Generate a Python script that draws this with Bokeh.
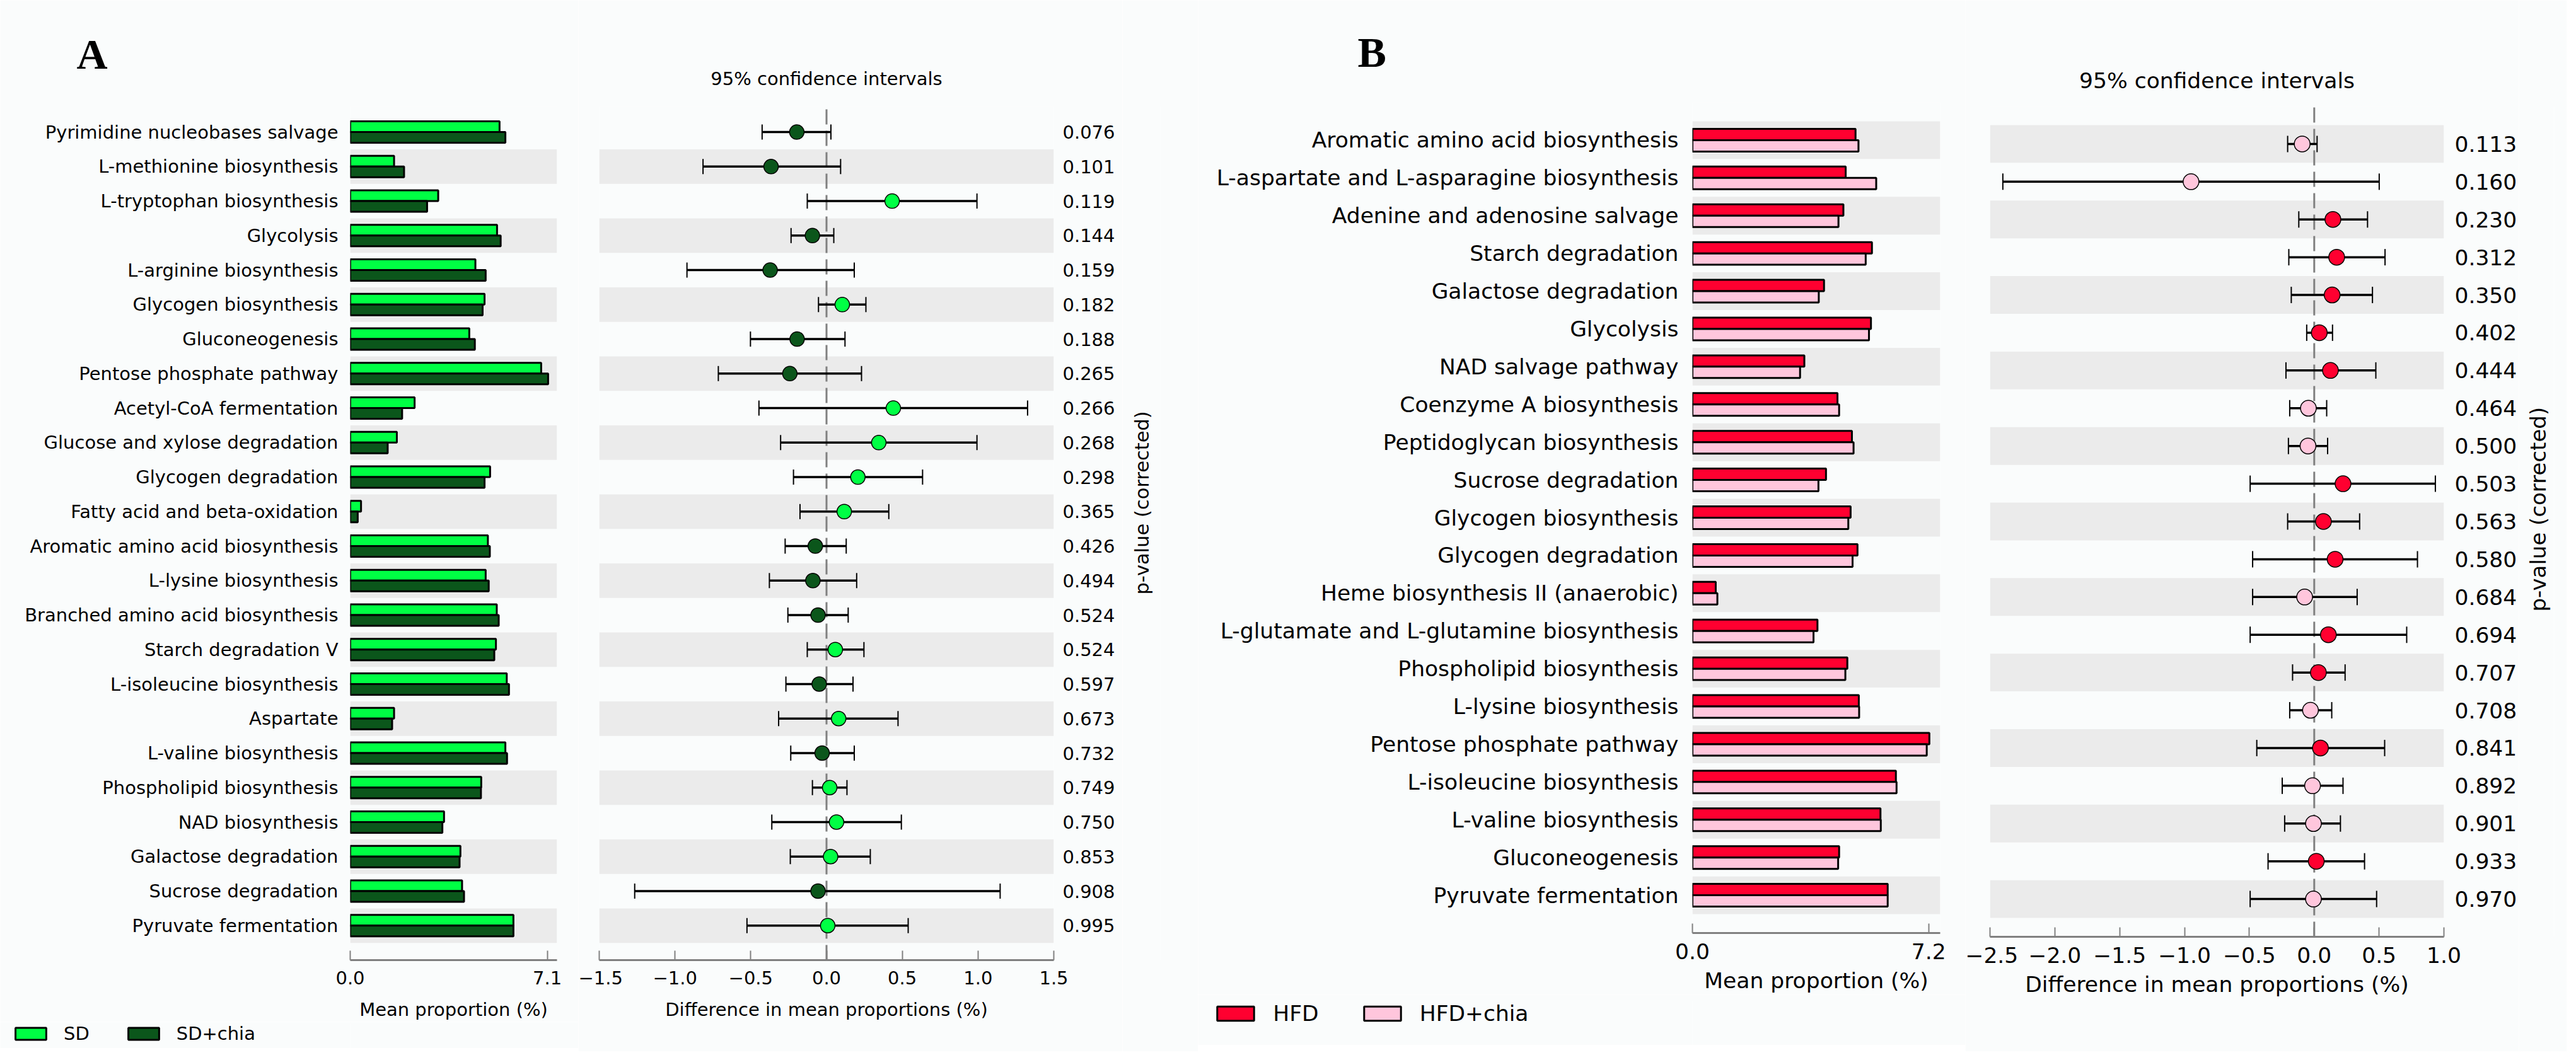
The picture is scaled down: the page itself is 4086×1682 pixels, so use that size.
import math
from bokeh.plotting import figure
from bokeh.models import Range1d, FixedTicker, LinearAxis, Legend, LegendItem
from bokeh.layouts import row, column
from bokeh.embed import file_html
from bokeh.resources import INLINE

# ---------------- Panel A data (rows listed top to bottom) ----------------
a_pathways = ["Pyrimidine nucleobases salvage", "L-methionine biosynthesis", "L-tryptophan biosynthesis",
              "Glycolysis", "L-arginine biosynthesis", "Glycogen biosynthesis", "Gluconeogenesis",
              "Pentose phosphate pathway", "Acetyl-CoA fermentation", "Glucose and xylose degradation",
              "Glycogen degradation", "Fatty acid and beta-oxidation", "Aromatic amino acid biosynthesis",
              "L-lysine biosynthesis", "Branched amino acid biosynthesis", "Starch degradation V",
              "L-isoleucine biosynthesis", "Aspartate", "L-valine biosynthesis", "Phospholipid biosynthesis",
              "NAD biosynthesis", "Galactose degradation", "Sucrose degradation", "Pyruvate fermentation"]
a_sd = [5.38, 1.58, 3.17, 5.29, 4.51, 4.84, 4.29, 6.88, 2.32, 1.68, 5.04, 0.39,
        4.96, 4.88, 5.28, 5.25, 5.64, 1.58, 5.59, 4.72, 3.38, 3.97, 4.03, 5.88]
a_sd_chia = [5.59, 1.94, 2.77, 5.42, 4.88, 4.77, 4.49, 7.13, 1.87, 1.35, 4.84, 0.27,
             5.03, 4.99, 5.35, 5.19, 5.72, 1.51, 5.65, 4.71, 3.32, 3.94, 4.10, 5.88]
a_diff = [-0.196, -0.366, 0.433, -0.093, -0.372, 0.104, -0.194, -0.242, 0.441, 0.345, 0.207, 0.117,
          -0.074, -0.090, -0.056, 0.058, -0.048, 0.080, -0.029, 0.021, 0.066, 0.027, -0.056, 0.008]
a_lower = [-0.425, -0.815, -0.127, -0.234, -0.921, -0.053, -0.502, -0.714, -0.446, -0.303, -0.218, -0.175,
           -0.273, -0.377, -0.255, -0.127, -0.268, -0.316, -0.236, -0.093, -0.361, -0.239, -1.266, -0.525]
a_upper = [0.029, 0.093, 0.993, 0.048, 0.183, 0.260, 0.122, 0.231, 1.327, 0.993, 0.634, 0.411,
           0.130, 0.199, 0.143, 0.247, 0.175, 0.472, 0.183, 0.135, 0.494, 0.289, 1.146, 0.539]
a_pvalues = ["0.076", "0.101", "0.119", "0.144", "0.159", "0.182", "0.188", "0.265", "0.266", "0.268",
             "0.298", "0.365", "0.426", "0.494", "0.524", "0.524", "0.597", "0.673", "0.732", "0.749",
             "0.750", "0.853", "0.908", "0.995"]
a_groups = ["SD", "SD+chia"]
a_bar_ticks = [0.0, 7.1]
a_ci_ticks = [-1.5, -1.0, -0.5, 0.0, 0.5, 1.0, 1.5]

# ---------------- Panel B data (rows listed top to bottom) ----------------
b_pathways = ["Aromatic amino acid biosynthesis", "L-aspartate and L-asparagine biosynthesis",
              "Adenine and adenosine salvage", "Starch degradation", "Galactose degradation", "Glycolysis",
              "NAD salvage pathway", "Coenzyme A biosynthesis", "Peptidoglycan biosynthesis",
              "Sucrose degradation", "Glycogen biosynthesis", "Glycogen degradation",
              "Heme biosynthesis II (anaerobic)", "L-glutamate and L-glutamine biosynthesis",
              "Phospholipid biosynthesis", "L-lysine biosynthesis", "Pentose phosphate pathway",
              "L-isoleucine biosynthesis", "L-valine biosynthesis", "Gluconeogenesis", "Pyruvate fermentation"]
b_hfd = [4.97, 4.67, 4.60, 5.47, 4.01, 5.44, 3.41, 4.42, 4.86, 4.07, 4.82, 5.03, 0.71, 3.81,
         4.72, 5.07, 7.22, 6.20, 5.73, 4.47, 5.95]
b_hfd_chia = [5.06, 5.60, 4.45, 5.28, 3.85, 5.38, 3.28, 4.47, 4.91, 3.84, 4.75, 4.88, 0.76, 3.69,
              4.66, 5.08, 7.14, 6.22, 5.74, 4.44, 5.95]
b_diff = [-0.093, -0.950, 0.144, 0.173, 0.138, 0.039, 0.125, -0.045, -0.048, 0.222, 0.071, 0.161,
          -0.074, 0.109, 0.032, -0.029, 0.048, -0.013, -0.006, 0.016, -0.006]
b_lower = [-0.205, -2.401, -0.119, -0.196, -0.177, -0.058, -0.218, -0.189, -0.199, -0.494, -0.205, -0.475,
           -0.475, -0.494, -0.167, -0.189, -0.443, -0.247, -0.228, -0.356, -0.494]
b_upper = [0.022, 0.501, 0.411, 0.546, 0.449, 0.141, 0.475, 0.096, 0.103, 0.934, 0.350, 0.796,
           0.331, 0.713, 0.238, 0.135, 0.543, 0.222, 0.202, 0.388, 0.481]
b_pvalues = ["0.113", "0.160", "0.230", "0.312", "0.350", "0.402", "0.444", "0.464", "0.500", "0.503",
             "0.563", "0.580", "0.684", "0.694", "0.707", "0.708", "0.841", "0.892", "0.901", "0.933",
             "0.970"]
b_groups = ["HFD", "HFD+chia"]
b_bar_ticks = [0.0, 7.2]
b_ci_ticks = [-2.5, -2.0, -1.5, -1.0, -0.5, 0.0, 0.5, 1.0]

# ---------------- style ----------------
FONT = "DejaVu Sans"
STRIPE = "#ebebeb"
BG = "#fafcfc"
GREY = "#808080"
A_COLORS = ["#00ff44", "#0b561b"]
B_COLORS = ["#ff0030", "#ffc6dc"]

geo_a = dict(fs="29px", frame_h=1355, top=168, bottom=145, bar_bottom=60, top_pad=0.75,
             bar_w=328, bar_left=555, bar_right=34, bar_max=7.45, bar_h=0.31,
             ci_w=721, ci_left=33, ci_right=109, ci_range=(-1.5, 1.5),
             name_standoff=13, p_standoff=8, tick_standoff=17, label_standoff=20, title_standoff=53,
             dot=23, cap=24,
             leg_left=54, leg_top=2, leg_h=40, glyph=(61, 24), leg_standoff=22, leg_spacing=55,
             letter="A", letter_offset=-434, letter_standoff=90, letter_fs="68px",
             sp_left=60, sp_right=59, plab_standoff=23, plab_offset=580, plab_fs="30.5px")
geo_b = dict(fs="34.5px", frame_h=1318, top=161, bottom=189, bar_bottom=60, top_pad=1.0,
             bar_w=393, bar_left=784, bar_right=40, bar_max=7.55, bar_h=0.30,
             ci_w=720, ci_left=39, ci_right=119, ci_range=(-2.5, 1.0),
             name_standoff=16, p_standoff=11, tick_standoff=16, label_standoff=11, title_standoff=42,
             dot=25, cap=26,
             leg_left=70, leg_top=10, leg_h=70, glyph=(73, 28), leg_standoff=23, leg_spacing=64,
             letter="B", letter_offset=-531, letter_standoff=84, letter_fs="68px",
             sp_left=55, sp_right=20, plab_standoff=10, plab_offset=516, plab_fs="34px")


def fmt(t):
    return f"{t:.1f}".replace("-", "\u2212")


def style_axis(ax, fs):
    ax.axis_line_color = GREY
    ax.axis_line_width = 3
    ax.major_tick_line_color = GREY
    ax.major_tick_line_width = 2
    ax.major_tick_in = 15
    ax.major_tick_out = 0
    ax.minor_tick_line_color = None
    ax.major_label_text_font = FONT
    ax.major_label_text_font_size = fs
    ax.major_label_text_color = "black"
    ax.axis_label_text_font = FONT
    ax.axis_label_text_font_size = fs
    ax.axis_label_text_font_style = "normal"
    ax.axis_label_text_color = "black"


def plain(**kw):
    return figure(output_backend="svg", toolbar_location=None, background_fill_color=BG,
                  border_fill_color=BG, outline_line_color=None, **kw)


def make_panel(names, g1, g2, diff, lower, upper, pvals, groups, colors, bar_ticks, ci_ticks, geo):
    n = len(names)
    ks = [n - 1 - i for i in range(n)]
    stripe_ks = [k for k in ks if k % 2 == 0]
    y_top = n - 1 + geo["top_pad"]
    fs = geo["fs"]
    bar_h = geo["bar_h"]
    off = bar_h / 2
    y1 = [k + off for k in ks]
    y2 = [k - off for k in ks]

    # ---- mean proportion bars ----
    bar_max = geo["bar_max"]
    pb = plain(frame_width=geo["bar_w"], frame_height=geo["frame_h"], min_border_left=geo["bar_left"],
               min_border_right=geo["bar_right"], min_border_top=geo["top"], min_border_bottom=geo["bar_bottom"],
               x_range=Range1d(0, bar_max), y_range=Range1d(-1, y_top), title=geo["letter"])
    pb.grid.visible = False
    pb.title.align = "left"
    pb.title.offset = geo["letter_offset"]
    pb.title.standoff = geo["letter_standoff"]
    pb.title.text_font = "Liberation Serif"
    pb.title.text_font_size = geo["letter_fs"]
    pb.title.text_font_style = "bold"
    pb.title.text_color = "black"
    pb.hbar(y=stripe_ks, left=0, right=bar_max, height=1, fill_color=STRIPE, line_color=None)
    pb.hbar(y=y1, left=0, right=g1, height=bar_h, fill_color=colors[0], line_color="black", line_width=3)
    pb.hbar(y=y2, left=0, right=g2, height=bar_h, fill_color=colors[1], line_color="black", line_width=3)
    xa = pb.xaxis[0]
    style_axis(xa, fs)
    xa.ticker = FixedTicker(ticks=bar_ticks)
    xa.major_label_overrides = {t: fmt(t) for t in bar_ticks}
    xa.axis_label = "Mean proportion (%)"
    xa.major_label_standoff = geo["tick_standoff"]
    xa.axis_label_standoff = geo["label_standoff"]
    ya = pb.yaxis[0]
    ya.ticker = FixedTicker(ticks=ks)
    ya.major_label_overrides = {k: nm for k, nm in zip(ks, names)}
    ya.axis_line_color = None
    ya.major_tick_line_color = None
    ya.minor_tick_line_color = None
    ya.major_label_standoff = geo["name_standoff"]
    ya.major_label_text_font = FONT
    ya.major_label_text_font_size = fs
    ya.major_label_text_color = "black"

    # ---- legend strip under the bars (its key renderers are zero-width and outside the view) ----
    total_w = geo["bar_left"] + geo["bar_w"] + geo["bar_right"]
    lf = plain(frame_width=total_w - geo["leg_left"], frame_height=geo["leg_h"], min_border_left=geo["leg_left"],
               min_border_right=0, min_border_top=geo["leg_top"], min_border_bottom=0,
               x_axis_location=None, y_axis_location=None,
               x_range=Range1d(0, 1), y_range=Range1d(y_top + 1, y_top + 2))
    lf.grid.visible = False
    d1 = lf.hbar(y=y1, left=0, right=0, height=bar_h, fill_color=colors[0], line_color="black", line_width=3)
    d2 = lf.hbar(y=y2, left=0, right=0, height=bar_h, fill_color=colors[1], line_color="black", line_width=3)
    gw, gh = geo["glyph"]
    leg = Legend(items=[LegendItem(label=groups[0], renderers=[d1]),
                        LegendItem(label=groups[1], renderers=[d2])],
                 location="top_left", orientation="horizontal",
                 glyph_width=gw, glyph_height=gh, label_standoff=geo["leg_standoff"],
                 spacing=geo["leg_spacing"], padding=0, margin=0,
                 background_fill_alpha=0, border_line_color=None,
                 label_text_font=FONT, label_text_font_size=fs, label_text_color="black")
    lf.add_layout(leg)

    # ---- confidence intervals ----
    c0, c1 = geo["ci_range"]
    pc = plain(frame_width=geo["ci_w"], frame_height=geo["frame_h"], min_border_left=geo["ci_left"],
               min_border_right=geo["ci_right"], min_border_top=geo["top"], min_border_bottom=geo["bottom"],
               x_range=Range1d(c0, c1), y_range=Range1d(-1, y_top), y_axis_location=None,
               title="95% confidence intervals")
    pc.grid.visible = False
    pc.title.align = "center"
    pc.title.text_font = FONT
    pc.title.text_font_size = fs
    pc.title.text_font_style = "normal"
    pc.title.text_color = "black"
    pc.title.standoff = geo["title_standoff"]
    pc.hbar(y=stripe_ks, left=c0, right=c1, height=1, fill_color=STRIPE, line_color=None)
    pc.segment(x0=[0], y0=[-1], x1=[0], y1=[y_top], line_color=GREY, line_width=3, line_dash="24 10")
    pc.segment(x0=lower, y0=ks, x1=upper, y1=ks, line_color="black", line_width=3.5)
    pc.scatter(x=lower + upper, y=ks + ks, marker="dash", angle=math.pi / 2, size=geo["cap"],
               line_color="black", line_width=2)
    pt_colors = [colors[0] if d > 0 else colors[1] for d in diff]
    pc.scatter(x=diff, y=ks, marker="circle", size=geo["dot"], fill_color=pt_colors,
               line_color="black", line_width=1.5)
    cx = pc.xaxis[0]
    style_axis(cx, fs)
    cx.ticker = FixedTicker(ticks=ci_ticks)
    cx.major_label_overrides = {t: fmt(t) for t in ci_ticks}
    cx.axis_label = "Difference in mean proportions (%)"
    cx.major_label_standoff = geo["tick_standoff"]
    cx.axis_label_standoff = geo["label_standoff"]
    ra = LinearAxis(ticker=FixedTicker(ticks=ks), major_label_overrides={k: pv for k, pv in zip(ks, pvals)})
    ra.axis_line_color = None
    ra.major_tick_line_color = None
    ra.minor_tick_line_color = None
    ra.major_label_standoff = geo["p_standoff"]
    ra.major_label_text_font = FONT
    ra.major_label_text_font_size = fs
    ra.major_label_text_color = "black"
    pc.add_layout(ra, "right")

    # ---- rotated "p-value (corrected)" caption, as a left-side title of a narrow strip ----
    sp = plain(frame_width=1, frame_height=geo["frame_h"], min_border_top=geo["top"],
               min_border_bottom=geo["bottom"], min_border_left=geo["sp_left"],
               min_border_right=geo["sp_right"], x_range=Range1d(0, 1), y_range=Range1d(0, 1),
               x_axis_location=None, y_axis_location=None, title="p-value (corrected)",
               title_location="left")
    sp.grid.visible = False
    sp.title.align = "left"
    sp.title.offset = geo["plab_offset"]
    sp.title.text_font = FONT
    sp.title.text_font_size = geo["plab_fs"]
    sp.title.text_font_style = "normal"
    sp.title.text_color = "black"
    sp.title.standoff = geo["plab_standoff"]
    return column(pb, lf), pc, sp


pa_left, pa_ci, pa_sp = make_panel(a_pathways, a_sd, a_sd_chia, a_diff, a_lower, a_upper, a_pvalues,
                                   a_groups, A_COLORS, a_bar_ticks, a_ci_ticks, geo_a)
pb_left, pb_ci, pb_sp = make_panel(b_pathways, b_hfd, b_hfd_chia, b_diff, b_lower, b_upper, b_pvalues,
                                   b_groups, B_COLORS, b_bar_ticks, b_ci_ticks, geo_b)

layout = row(pa_left, pa_ci, pa_sp, pb_left, pb_ci, pb_sp)
open("out.html", "w").write(file_html(layout, INLINE))
